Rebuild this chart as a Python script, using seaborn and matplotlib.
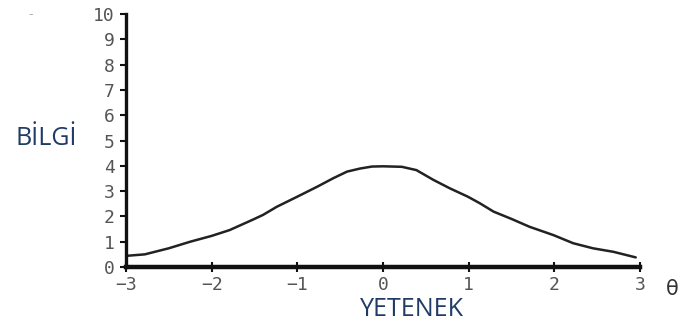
import matplotlib
matplotlib.use('Agg')
import matplotlib.pyplot as plt
import pandas as pd
import seaborn as sns

# ability (theta) vs test information
theta = [-3.0, -2.78, -2.5, -2.25, -2.0, -1.79, -1.52, -1.4, -1.24, -1.0, -0.77,
         -0.58, -0.42, -0.27, -0.13, 0.0, 0.22, 0.39, 0.59, 0.78, 0.99, 1.13,
         1.29, 1.5, 1.71, 1.99, 2.22, 2.45, 2.69, 2.95]
info = [0.44, 0.50, 0.74, 1.0, 1.23, 1.46, 1.87, 2.06, 2.38, 2.78, 3.17,
        3.51, 3.77, 3.89, 3.97, 3.98, 3.96, 3.83, 3.44, 3.11, 2.78, 2.52,
        2.19, 1.9, 1.59, 1.26, 0.94, 0.74, 0.60, 0.38]
x_ticks = [-3, -2, -1, 0, 1, 2, 3]
y_ticks = list(range(0, 11))

df = pd.DataFrame({'theta': theta, 'info': info})

sns.set_style('ticks')
fig = plt.figure(figsize=(6.78, 3.31), dpi=100)
ax = fig.add_axes([126 / 678, 64 / 331, 514 / 678, 253 / 331])

sns.lineplot(data=df, x='theta', y='info', ax=ax, color='#222222', linewidth=1.8)

ax.set_xlim(-3, 3)
ax.set_ylim(0, 10)
ax.set_xticks(x_ticks)
ax.set_yticks(y_ticks)
ax.set_xticklabels([str(t).replace('-', '\u2212') for t in x_ticks])
ax.set_xlabel('')
ax.set_ylabel('')

for s in ['top', 'right']:
    ax.spines[s].set_visible(False)
ax.spines['bottom'].set_linewidth(3.2)
ax.spines['left'].set_linewidth(2.4)
ax.spines['bottom'].set_color('#111111')
ax.spines['left'].set_color('#111111')

mono = 'DejaVu Sans Mono'
ax.tick_params(axis='y', direction='out', length=4, width=1.5, colors='#111111',
               labelcolor='#555555', labelsize=13, pad=4)
ax.tick_params(axis='x', direction='inout', length=7, width=1.5, colors='#111111',
               labelcolor='#555555', labelsize=13, pad=3)
for lab in ax.get_xticklabels() + ax.get_yticklabels():
    lab.set_family(mono)

fig.text(46 / 678, 1 - 138 / 331, 'BİLGİ', family='Open Sans', fontsize=18,
         color='#1f3b66', ha='center', va='center')
fig.text(412 / 678, 1 - 310 / 331, 'YETENEK', family='Open Sans', fontsize=18,
         color='#1f3b66', ha='center', va='center')
fig.text(672 / 678, 1 - 289 / 331, 'θ', family='DejaVu Sans', fontsize=15,
         color='#333333', ha='center', va='center')
fig.text(31 / 678, 1 - 15 / 331, '-', fontsize=9, color='#aaaaaa',
         ha='center', va='center')

fig.savefig('out.png', dpi=100)
